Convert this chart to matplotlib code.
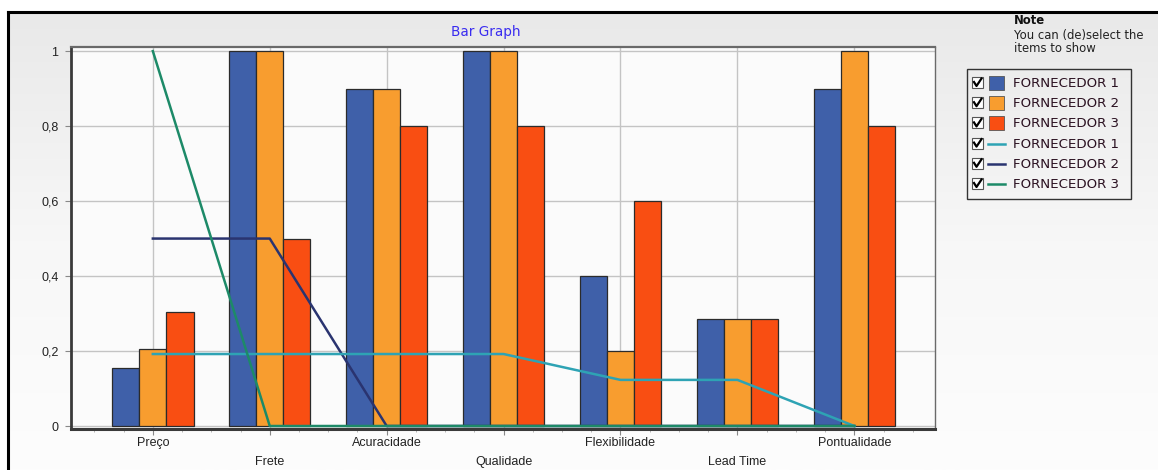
import numpy as np
import matplotlib
matplotlib.use("Agg")
import matplotlib.pyplot as plt
from matplotlib.patches import Rectangle
from matplotlib.lines import Line2D

# data
categories = ["Preço", "Frete", "Acuracidade", "Qualidade", "Flexibilidade", "Lead Time", "Pontualidade"]
series_names = ["FORNECEDOR 1", "FORNECEDOR 2", "FORNECEDOR 3"]
bar_f1 = [0.155, 1.0, 0.9, 1.0, 0.4, 0.2857, 0.9]
bar_f2 = [0.206, 1.0, 0.9, 1.0, 0.2, 0.2857, 1.0]
bar_f3 = [0.305, 0.5, 0.8, 0.8, 0.6, 0.2857, 0.8]
line_f1 = [0.192, 0.192, 0.192, 0.192, 0.123, 0.123, 0.0]
line_f2 = [0.5, 0.5, 0.0, 0.0, 0.0, 0.0, 0.0]
line_f3 = [1.0, 0.0, 0.0, 0.0, 0.0, 0.0, 0.0]
y_ticks = [0, 0.2, 0.4, 0.6, 0.8, 1]
y_tick_labels = ["0", "0,2", "0,4", "0,6", "0,8", "1"]

bar_colors = ["#3f60a9", "#f89d2f", "#f94e12"]
line_colors = ["#2ea3b4", "#2a3470", "#1d8a68"]

W, H = 1158, 470
fig = plt.figure(figsize=(W / 100, H / 100), dpi=100)
fig.patch.set_facecolor("white")

def px(x, y):
    # pixel position (from top left) to figure fraction
    return x / W, 1 - y / H

# panel background with a soft vertical gradient
bg = fig.add_axes([8 / W, 0, 1 - 8 / W, 1 - 12 / H], zorder=0)
grad = np.linspace(0, 1, 256).reshape(-1, 1)
bg.imshow(grad, aspect="auto", cmap=matplotlib.colors.LinearSegmentedColormap.from_list(
    "g", ["#e9e9e9", "#f7f7f7", "#fdfdfd"]), extent=[0, 1, 0, 1], origin="upper")
bg.set_axis_off()

# black frame around the panel
fig.add_artist(Line2D([8 / W, 1], [1 - 12 / H, 1 - 12 / H], color="black", lw=2.2, transform=fig.transFigure))
fig.add_artist(Line2D([8 / W, 8 / W], [0, 1 - 12 / H], color="black", lw=2.2, transform=fig.transFigure))

# main plot
left, right, top, bottom = 71, 935, 47, 429
ax = fig.add_axes([left / W, 1 - bottom / H, (right - left) / W, (bottom - top) / H], zorder=2)
ax.set_facecolor("#fbfbfb")

x = np.arange(len(categories))
bw = 0.232
for i, vals in enumerate([bar_f1, bar_f2, bar_f3]):
    ax.bar(x + (i - 1) * bw, vals, width=bw, color=bar_colors[i], edgecolor="#2b2b2b",
           linewidth=0.9, zorder=3)

for i, vals in enumerate([line_f1, line_f2, line_f3]):
    ax.plot(x, vals, color=line_colors[i], lw=1.8, zorder=4 + (0.3 if i == 2 else 0.1 * (2 - i)))

ax.set_xlim(-0.70, 6.69)
ax.set_ylim(-0.008, 1.011)

ax.set_yticks(y_ticks)
ax.set_yticklabels(y_tick_labels)
ax.set_xticks(x)
ax.set_xticklabels([c if i % 2 == 0 else "\n" + c for i, c in enumerate(categories)])
for lab in ax.get_xticklabels():
    lab.set_linespacing(1.75)
ax.set_xticks(np.arange(-0.5, 6.7, 0.25), minor=True)
ax.tick_params(axis="x", which="major", length=4, width=0.8, color="#888888", labelsize=9, pad=2)
ax.tick_params(axis="x", which="minor", length=2, width=0.6, color="#aaaaaa")
ax.tick_params(axis="y", length=4, width=0.8, color="#888888", labelsize=9, pad=5)
for lab in ax.get_xticklabels() + ax.get_yticklabels():
    lab.set_family("Liberation Sans")
    lab.set_color("#222222")

ax.grid(True, which="major", color="#c4c4c4", lw=1.0, zorder=0)
ax.set_axisbelow(True)

ax.spines["left"].set_color("#3a3a3a")
ax.spines["left"].set_linewidth(2.0)
ax.spines["bottom"].set_color("#3a3a3a")
ax.spines["bottom"].set_linewidth(2.2)
ax.spines["top"].set_color("#6a6a6a")
ax.spines["top"].set_linewidth(1.6)
ax.spines["right"].set_color("#6a6a6a")
ax.spines["right"].set_linewidth(1.0)

# title
fig.text(*px(486, 32), "Bar Graph", color="#3a2cf0", fontsize=9.8, ha="center", va="center",
         family="DejaVu Sans")

# note above the legend
fig.text(*px(1014, 20), "Note", fontsize=8.4, fontweight="bold", ha="left", va="center", color="#111111")
fig.text(*px(1014, 35), "You can (de)select the", fontsize=8.4, ha="left", va="center", color="#222222")
fig.text(*px(1014, 49), "items to show", fontsize=8.4, ha="left", va="center", color="#222222")

# legend with checkboxes
lx0, ly0, lx1, ly1 = 967, 69, 1131, 199
x0, y0 = px(lx0, ly1)
x1, y1 = px(lx1, ly0)
fig.add_artist(Rectangle((x0, y0), x1 - x0, y1 - y0, transform=fig.transFigure,
                         facecolor="none", edgecolor="#333333", lw=1.0, zorder=5))

rows = [(n, "bar", c) for n, c in zip(series_names, bar_colors)] + \
       [(n, "line", c) for n, c in zip(series_names, line_colors)]
for k, (name, kind, col) in enumerate(rows):
    yc = 83 + k * 20.2
    # checkbox
    bx, by = px(972, yc + 5)
    bx2, by2 = px(983, yc - 6)
    fig.add_artist(Rectangle((bx, by), bx2 - bx, by2 - by, transform=fig.transFigure,
                             facecolor="white", edgecolor="#555555", lw=0.8, zorder=6))
    cx = [974, 976.5, 981.5]
    cy = [yc - 1, yc + 3, yc - 4.5]
    pts = [px(a, b) for a, b in zip(cx, cy)]
    fig.add_artist(Line2D([p[0] for p in pts], [p[1] for p in pts], color="black", lw=1.6,
                          transform=fig.transFigure, zorder=7))
    if kind == "bar":
        sx, sy = px(989, yc + 7)
        sx2, sy2 = px(1004, yc - 7)
        fig.add_artist(Rectangle((sx, sy), sx2 - sx, sy2 - sy, transform=fig.transFigure,
                                 facecolor=col, edgecolor="#555555", lw=0.6, zorder=6))
    else:
        a, b = px(988, yc)
        c, d = px(1005, yc)
        fig.add_artist(Line2D([a, c], [b, d], color=col, lw=1.8, transform=fig.transFigure, zorder=6))
    fig.text(*px(1013, yc + 0.5), name, fontsize=9.6, ha="left", va="center", color="#2a1020",
             family="DejaVu Sans", zorder=7)

fig.savefig("out.png", dpi=100)
